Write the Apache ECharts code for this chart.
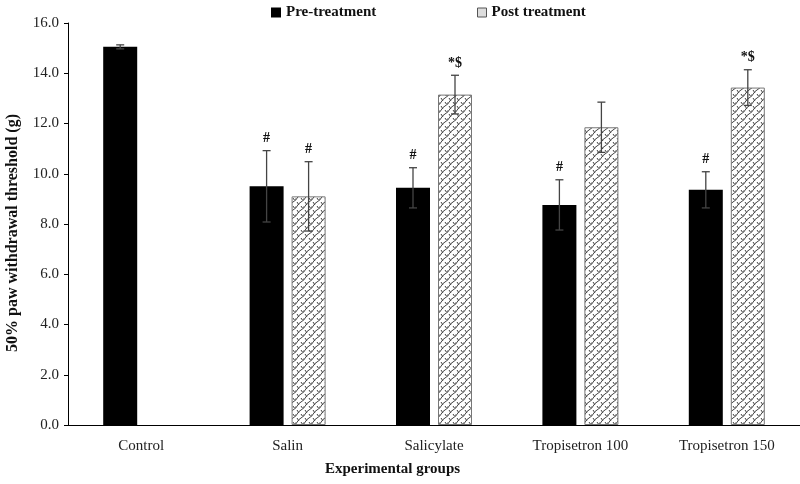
<!DOCTYPE html>
<html>
<head>
<meta charset="utf-8">
<script src="https://cdn.jsdelivr.net/npm/echarts@6/dist/echarts.min.js"></script>
<style>
html, body { margin: 0; padding: 0; background: #fff; }
#chart { width: 800px; height: 484px; }
</style>
</head>
<body>
<div id="chart"></div>
<script>
var categories = ['Control', 'Salin', 'Salicylate', 'Tropisetron 100', 'Tropisetron 150'];
var preMean = [15.05, 9.5, 9.44, 8.76, 9.36];
var preErr = [0.08, 1.42, 0.8, 1.0, 0.72];
var postMean = [null, 9.1, 13.15, 11.85, 13.43];
var postErr = [null, 1.38, 0.77, 1.0, 0.71];
var preMarks = ['', '#', '#', '#', '#'];
var postMarks = ['', '#', '*$', '', '*$'];

var serif = '"Liberation Serif", "DejaVu Serif", serif';
var barW = 34, barGapPx = 8;
var shift = barW / 2 + barGapPx / 2;

// hatch pattern for the post treatment bars
var tile = document.createElement('canvas');
tile.width = 8; tile.height = 8;
var ctx = tile.getContext('2d');
ctx.fillStyle = '#fff';
ctx.fillRect(0, 0, 8, 8);
ctx.strokeStyle = '#444';
ctx.lineWidth = 1;
ctx.beginPath();
ctx.moveTo(-1, 9); ctx.quadraticCurveTo(2, 3, 9, -1);
ctx.moveTo(-5, 5); ctx.quadraticCurveTo(-2, -1, 5, -5);
ctx.moveTo(3, 13); ctx.quadraticCurveTo(6, 7, 13, 3);
ctx.stroke();
ctx.beginPath();
ctx.moveTo(1, 2); ctx.lineTo(3, 5);
ctx.moveTo(5, 6); ctx.lineTo(7, 9);
ctx.stroke();

function errData(mean, err) {
    var out = [];
    for (var i = 0; i < mean.length; i++) {
        if (mean[i] != null) out.push([i, mean[i], err[i]]);
    }
    return out;
}

function errRender(dx, marks) {
    return function (params, api) {
        var i = api.value(0), m = api.value(1), e = api.value(2);
        var top = api.coord([i, m + e]);
        var bot = api.coord([i, m - e]);
        var x = top[0] + dx;
        var cap = 4;
        var style = { stroke: '#444', lineWidth: 1.3 };
        var kids = [
            { type: 'line', shape: { x1: x, y1: top[1], x2: x, y2: bot[1] }, style: style },
            { type: 'line', shape: { x1: x - cap, y1: top[1], x2: x + cap, y2: top[1] }, style: style },
            { type: 'line', shape: { x1: x - cap, y1: bot[1], x2: x + cap, y2: bot[1] }, style: style }
        ];
        var mk = marks[i];
        if (mk) {
            kids.push({
                type: 'text',
                style: {
                    text: mk, x: x, y: top[1] - 5,
                    align: 'center', verticalAlign: 'bottom',
                    font: 'bold 14px ' + serif, fill: '#111'
                }
            });
        }
        return { type: 'group', children: kids };
    };
}

var myChart = echarts.init(document.getElementById('chart'));
var option = {
    animation: false,
    grid: { left: 68, right: 0, top: 23, bottom: 59, outerBoundsMode: 'none', containLabel: false },
    legend: [{
        left: 266, top: 0,
        itemWidth: 10, itemHeight: 10, itemGap: 5,
        selectedMode: false,
        textStyle: { fontFamily: serif, fontWeight: 'bold', fontSize: 15, color: '#111' },
        data: [{ name: 'Pre-treatment', icon: 'rect', itemStyle: { color: '#000' } }]
    }, {
        left: 472, top: 0,
        itemWidth: 9, itemHeight: 9, itemGap: 5,
        selectedMode: false,
        textStyle: { fontFamily: serif, fontWeight: 'bold', fontSize: 15, color: '#111' },
        data: [{ name: 'Post treatment', icon: 'rect', itemStyle: { color: '#ddd', borderColor: '#555', borderWidth: 1 } }]
    }],
    xAxis: {
        type: 'category',
        data: categories,
        axisLine: { lineStyle: { color: '#000', width: 1 } },
        axisTick: { alignWithLabel: true, length: 4, lineStyle: { color: '#000' } },
        axisLabel: { fontFamily: serif, fontSize: 15, color: '#222', margin: 14 }
    },
    yAxis: {
        type: 'value',
        min: 0, max: 16, interval: 2,
        axisLine: { show: true, lineStyle: { color: '#000', width: 1 } },
        axisTick: { show: true, length: 4, lineStyle: { color: '#000' } },
        splitLine: { show: false },
        axisLabel: {
            fontFamily: serif, fontSize: 15, color: '#222', margin: 9,
            formatter: function (v) { return v.toFixed(1); }
        }
    },
    graphic: [{
        type: 'text',
        left: 325, top: 462,
        style: { text: 'Experimental groups', font: 'bold 15px ' + serif, fill: '#111' }
    }, {
        type: 'text',
        x: 13, y: 233,
        rotation: Math.PI / 2,
        style: {
            text: '50% paw withdrawal threshold (g)', font: 'bold 16px ' + serif, fill: '#111',
            align: 'center', verticalAlign: 'middle'
        }
    }],
    series: [{
        name: 'Pre-treatment',
        type: 'bar',
        barWidth: barW,
        barGap: (barGapPx / barW * 100) + '%',
        itemStyle: { color: '#000' },
        data: preMean
    }, {
        name: 'Post treatment',
        type: 'bar',
        barWidth: barW,
        itemStyle: { color: { image: tile, repeat: 'repeat' }, borderColor: '#777', borderWidth: 1 },
        data: postMean
    }, {
        name: 'preErr',
        type: 'custom',
        z: 5,
        renderItem: errRender(-shift, preMarks),
        encode: { x: 0, y: 1 },
        data: errData(preMean, preErr)
    }, {
        name: 'postErr',
        type: 'custom',
        z: 5,
        renderItem: errRender(shift, postMarks),
        encode: { x: 0, y: 1 },
        data: errData(postMean, postErr)
    }]
};
myChart.setOption(option);
</script>
</body>
</html>
